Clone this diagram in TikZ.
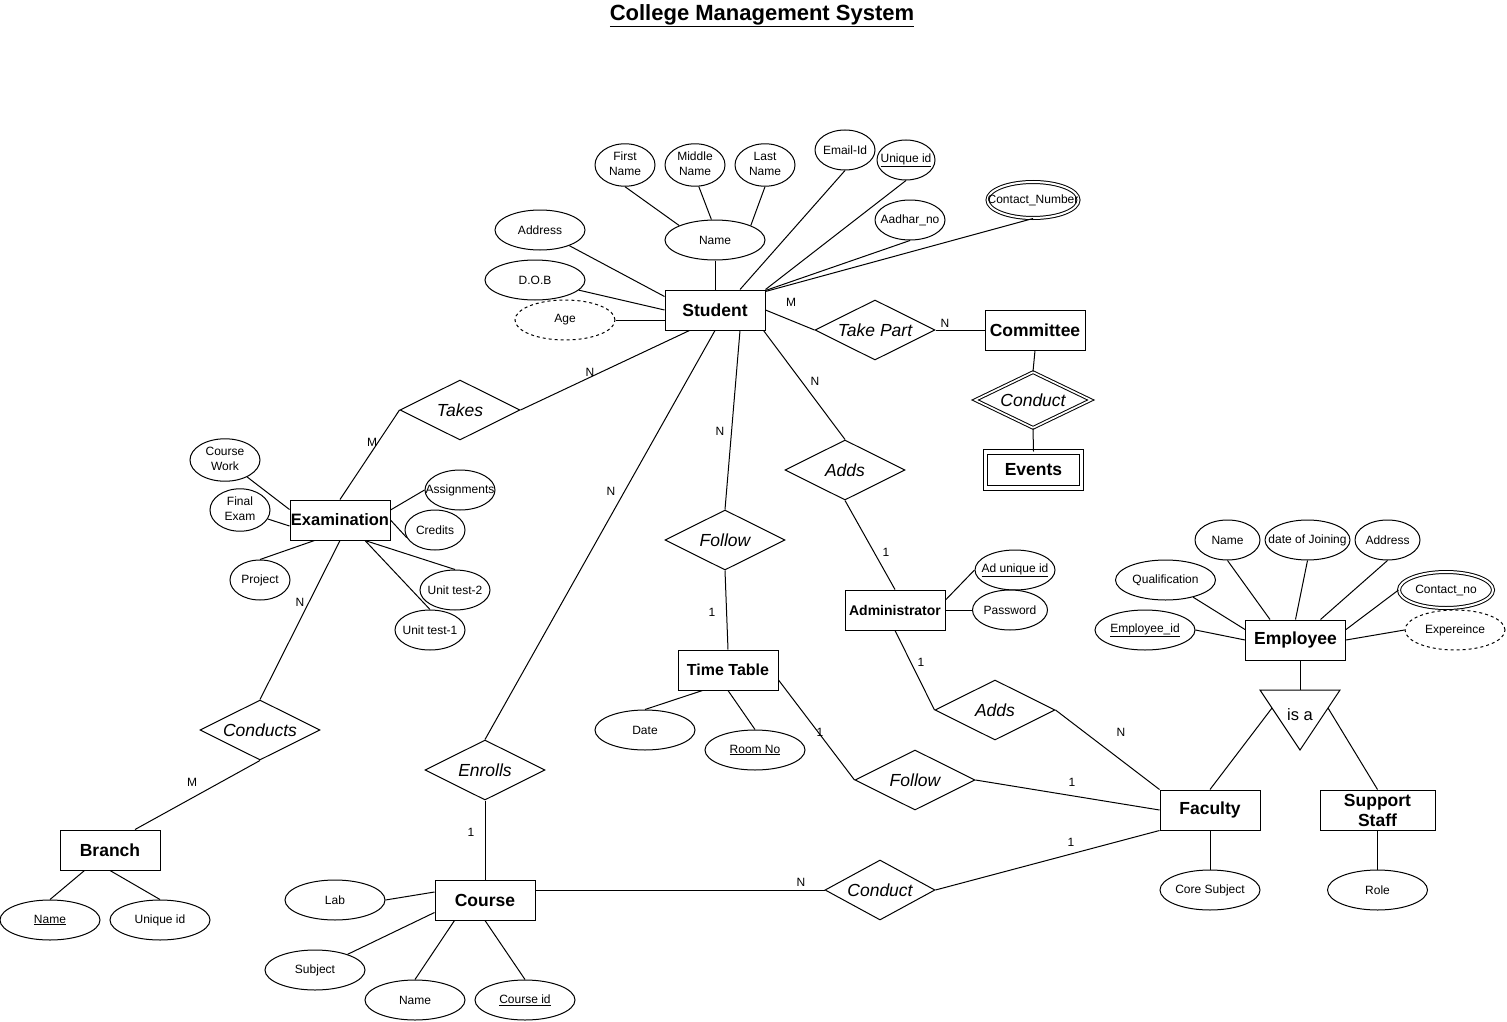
\documentclass[tikz,border=0pt]{standalone}
\usepackage{fontspec}
\setmainfont{Liberation Sans}
\usetikzlibrary{shapes.geometric,calc}
\newcommand\oneline[1]{\makebox[0pt]{#1}}
\newcommand\twoline[2]{\makebox[0pt]{\begin{tabular}{@{}c@{}}#1\\#2\end{tabular}}}
\begin{document}
\begin{tikzpicture}[x=1pt,y=-1pt,line width=1pt,
  attr/.style={ellipse,draw,fill=white,minimum height=40pt,inner sep=0pt,font=\fontsize{12}{15}\selectfont},
  ent/.style={rectangle,draw,fill=white,minimum width=100pt,minimum height=40pt,inner sep=0pt,font=\fontsize{17.5}{20}\selectfont\bfseries},
  rel/.style={diamond,draw,fill=white,minimum width=120pt,minimum height=60pt,inner sep=0pt,aspect=2,font=\fontsize{17.5}{20}\selectfont\itshape},
  card/.style={font=\fontsize{12}{14}\selectfont,inner sep=0pt},
  multi/.style={double,double distance=2pt,minimum height=36pt},
  derived/.style={dash pattern=on 3pt off 3pt},
]
\fill[white] (0,0) rectangle (1507,1022);
\useasboundingbox (0,0) rectangle (1507,1022);

\node (title) at (762,16) {\fontsize{22}{26}\selectfont\bfseries\underline{College Management System}};

% ---- Student
\node[ent] (S) at (715,310) {Student};
\node[attr,minimum width=100pt] (name) at (715,240) {\oneline{Name}};
\node[attr,minimum width=60pt] (fname) at (625,165) {\twoline{First}{Name}};
\node[attr,minimum width=60pt] (mname) at (695,165) {\twoline{Middle}{Name}};
\node[attr,minimum width=60pt] (lname) at (765,165) {\twoline{Last}{Name}};
\node[attr,minimum width=60pt] (email) at (845,150) {\oneline{Email-Id}};
\node[attr,minimum width=58pt] (uid) at (906,160) {\oneline{\underline{Unique id}}};
\node[attr,minimum width=70pt] (aadhar) at (910,220) {\oneline{Aadhar\_no}};
\node[attr,multi,minimum width=91pt] (contact) at (1033,200) {\oneline{Contact\_Number}};
\node[attr,minimum width=90pt] (address) at (540,230) {\oneline{Address}};
\node[attr,minimum width=100pt] (dob) at (535,280) {\oneline{D.O.B}};
\node[attr,derived,minimum width=100pt] (age) at (565,320) {\oneline{Age}};

% ---- Committee
\node[ent] (committee) at (1035,330) {Committee};
\node[rel] (takepart) at (875,330) {Take Part};
\node[rel,double,double distance=1.7pt,minimum width=116pt,minimum height=56pt] (conductA) at (1033,400) {Conduct};
\node[ent,double,double distance=3.5pt,minimum width=96pt,minimum height=36pt] (events) at (1033.5,470) {Events};

% ---- Examination
\node[rel] (takes) at (460,410) {Takes};
\node[ent,font=\fontsize{16.5}{19}\selectfont\bfseries] (exam) at (340,520) {Examination};
\node[attr,minimum width=70pt] (cwork) at (225,460) {\twoline{Course}{Work}};
\node[attr,minimum width=60pt] (fexam) at (240,510) {\twoline{Final}{Exam}};
\node[attr,minimum width=60pt] (project) at (260,580) {\oneline{Project}};
\node[attr,minimum width=70pt] (assign) at (460,490) {\oneline{Assignments}};
\node[attr,minimum width=60pt] (credits) at (435,530) {\oneline{Credits}};
\node[attr,minimum width=70pt] (ut2) at (455,590) {\oneline{Unit test-2}};
\node[attr,minimum width=70pt] (ut1) at (430,630) {\oneline{Unit test-1}};

% ---- Branch
\node[rel] (conducts) at (260,730) {Conducts};
\node[ent] (branch) at (110,850) {Branch};
\node[attr,minimum width=100pt] (bname) at (50,920) {\oneline{\underline{Name}}};
\node[attr,minimum width=100pt] (buid) at (160,920) {\oneline{Unique id}};

% ---- Course
\node[rel] (enrolls) at (485,770) {Enrolls};
\node[ent] (course) at (485,900) {Course};
\node[attr,minimum width=100pt] (lab) at (335,900) {\oneline{Lab}};
\node[attr,minimum width=100pt] (subject) at (315,970) {\oneline{Subject}};
\node[attr,minimum width=100pt] (cname) at (415,1000) {\oneline{Name}};
\node[attr,minimum width=100pt] (cid) at (525,1000) {\oneline{\underline{Course id}}};
\node[rel,minimum width=110pt] (conductB) at (880,890) {Conduct};

% ---- Time Table
\node[rel] (follow1) at (725,540) {Follow};
\node[ent,font=\fontsize{16}{19}\selectfont\bfseries] (tt) at (728,670) {Time Table};
\node[attr,minimum width=100pt] (date) at (645,730) {\oneline{Date}};
\node[attr,minimum width=100pt] (room) at (755,750) {\oneline{\underline{Room No}}};
\node[rel] (follow2) at (915,780) {Follow};

% ---- Administrator
\node[rel] (adds1) at (845,470) {Adds};
\node[ent,font=\fontsize{14}{17}\selectfont\bfseries] (admin) at (895,610) {Administrator};
\node[attr,minimum width=80pt] (aduid) at (1015,570) {\oneline{\underline{Ad unique id}}};
\node[attr,minimum width=75pt] (pw) at (1010,610) {\oneline{Password}};
\node[rel] (adds2) at (995,710) {Adds};

% ---- Faculty / Employee
\node[ent] (faculty) at (1210,810) {Faculty};
\node[attr,minimum width=100pt] (coresub) at (1210,890) {\oneline{Core Subject}};
\node[ent] (emp) at (1295.5,640) {Employee};
\node[attr,minimum width=65pt] (ename) at (1227.5,540) {\oneline{Name}};
\node[attr,minimum width=85pt] (doj) at (1307.5,540) {\oneline{date of Joining}};
\node[attr,minimum width=65pt] (eaddr) at (1387.5,540) {\oneline{Address}};
\node[attr,minimum width=100pt] (qual) at (1165.5,580) {\oneline{Qualification}};
\node[attr,minimum width=100pt] (eid) at (1145,630) {\oneline{\underline{Employee\_id}}};
\node[attr,multi,minimum width=94pt] (econ) at (1446,590) {\oneline{Contact\_no}};
\node[attr,derived,minimum width=100pt] (exper) at (1455,630) {\oneline{Expereince}};
\node[ent,minimum width=115pt,align=center] (support) at (1377.5,810) {Support\\Staff};
\node[attr,minimum width=100pt] (role) at (1377.5,890) {\oneline{Role}};

% is a triangle
\coordinate (tA) at (1260,690);
\coordinate (tB) at (1340,690);
\coordinate (tC) at (1300,750);
\draw (tA) -- (tB) -- (tC) -- cycle;
\node[font=\fontsize{16.5}{19}\selectfont] (isa) at (1300,715) {is a};
\coordinate (isaL) at ($(tA)!0.3!(tC)$);
\coordinate (isaR) at ($(tB)!0.3!(tC)$);
\coordinate (isaT) at ($(tA)!0.5!(tB)$);

% ---- connectors: Student attributes
\draw (address) -- ($(S.north west)+(0,7)$);
\draw (dob) -- (S.west);
\draw (age.east) -- (age.east -| S.west);
\draw (name.south) -- (S.north);
\draw (fname.south) -- (name.158);
\draw (mname.-80) -- (name.100);
\draw (lname.south) -- (name.22);
\draw (email.south) -- ($(S.north)+(25,0)$);
\draw (uid.south) -- (S.north east);
\draw (aadhar.south) -- ($(S.north east)+(0,1)$);
\draw (contact.south) -- ($(S.north east)+(0,2)$);

% Student relationships
\draw (S.east) -- (takepart.west);
\draw (takepart.east) -- (committee.west);
\draw (committee.south) -- (conductA.north);
\draw (conductA.south) -- (events.north);
\draw ($(S.south west)+(25,0)$) -- (takes.east);
\draw (takes.west) -- (exam.north);
\draw (S.south) -- (enrolls.north);
\draw ($(S.south)+(25,0)$) -- (follow1.north);
\draw ($(S.south east)+(-2,0)$) -- (adds1.north);

% Examination
\draw (cwork) -- ($(exam.north west)+(0,10)$);
\draw (fexam) -- ($(exam.west)+(0,6)$);
\draw (project.north) -- ($(exam.south west)+(25,0)$);
\draw ($(exam.east)+(0,-10)$) -- (assign.west);
\draw (exam.east) -- (credits.195);
\draw ($(exam.south)+(25,0)$) -- (ut2.north);
\draw ($(exam.south)+(25,0)$) -- (ut1.north);
\draw (exam.south) -- (conducts.north);
\draw (conducts.south) -- ($(branch.north)+(25,0)$);
\draw ($(branch.south west)+(25,0)$) -- (bname.north);
\draw (branch.south) -- (buid.north);

% Course
\draw (enrolls.south) -- (course.north);
\draw (lab.east) -- ($(course.west)+(0,-8)$);
\draw (subject) -- ($(course.south west)+(0,-8)$);
\draw (cname.north) -- ($(course.south west)+(20,0)$);
\draw (cid.north) -- (course.south);
\draw ($(course.east)+(0,-10)$) -- (conductB.west);
\draw (conductB.east) -- (faculty.south west);

% Time Table
\draw (follow1.south) -- (tt.north);
\draw ($(tt.south west)+(25,0)$) -- (date.north);
\draw (tt.south) -- (room.north);
\draw ($(tt.east)+(0,10)$) -- (follow2.west);
\draw (follow2.east) -- (faculty.west);

% Administrator
\draw (adds1.south) -- (admin.north);
\draw ($(admin.east)+(0,-10)$) -- (aduid.west);
\draw (admin.east) -- (pw.west);
\draw (admin.south) -- (adds2.west);
\draw (adds2.east) -- (faculty.north west);

% Faculty / Employee
\draw (faculty.south) -- (coresub.north);
\draw (ename.south) -- ($(emp.north west)+(25,0)$);
\draw (doj.south) -- (emp.north);
\draw (eaddr.south) -- ($(emp.north)+(25,0)$);
\draw (qual) -- ($(emp.north west)+(0,10)$);
\draw (eid.east) -- (emp.west);
\draw (econ.west) -- ($(emp.north east)+(0,10)$);
\draw (exper.west) -- (emp.east);
\draw ($(emp.south)+(4.5,0)$) -- (isaT);
\draw (isaL) -- (faculty.north);
\draw (isaR) -- (support.north);
\draw (support.south) -- (role.north);

% ---- cardinalities
\node[card] (c1) at (791,302) {M};
\node[card] (c2) at (945,323) {N};
\node[card] (c3) at (590,372) {N};
\node[card] (c4) at (372,442) {M};
\node[card] (c5) at (720,431) {N};
\node[card] (c6) at (712,612) {1};
\node[card] (c7) at (815,381) {N};
\node[card] (c8) at (886,552) {1};
\node[card] (c9) at (611,491) {N};
\node[card] (c10) at (471,832) {1};
\node[card] (c11) at (300,602) {N};
\node[card] (c12) at (192,782) {M};
\node[card] (c13) at (921,662) {1};
\node[card] (c14) at (1121,732) {N};
\node[card] (c15) at (820,732) {1};
\node[card] (c16) at (1072,782) {1};
\node[card] (c17) at (801,882) {N};
\node[card] (c18) at (1071,842) {1};
\end{tikzpicture}
\end{document}
